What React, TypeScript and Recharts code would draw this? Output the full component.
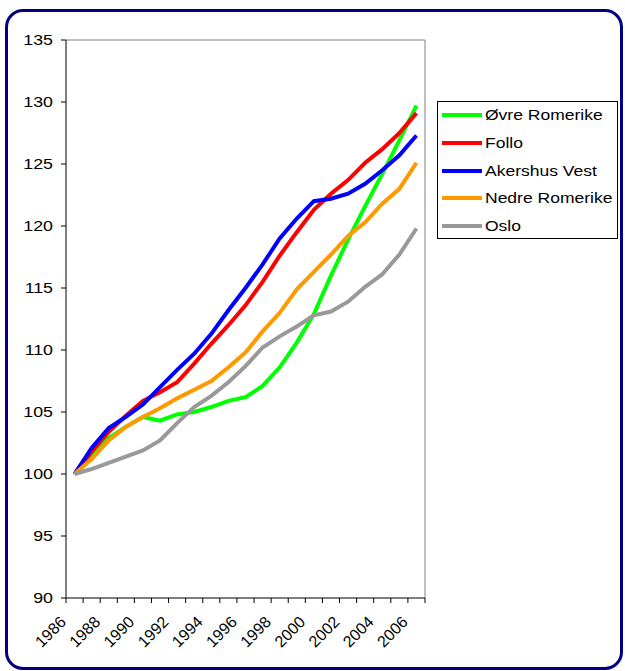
import React from "react";
import { LineChart, Line, XAxis, YAxis, ReferenceLine } from "recharts";

// index, 1986 = 100
const years = [
  1986, 1987, 1988, 1989, 1990, 1991, 1992, 1993, 1994, 1995, 1996,
  1997, 1998, 1999, 2000, 2001, 2002, 2003, 2004, 2005, 2006,
];
const ovreRomerike = [
  100, 101.4, 102.9, 103.8, 104.6, 104.3, 104.8, 105.0, 105.4, 105.9, 106.2,
  107.1, 108.6, 110.6, 112.9, 116.0, 118.9, 121.6, 124.2, 126.9, 129.7,
];
const follo = [
  100, 101.8, 103.4, 104.7, 105.9, 106.6, 107.4, 108.9, 110.5, 112.0, 113.6,
  115.5, 117.6, 119.5, 121.3, 122.6, 123.7, 125.1, 126.2, 127.5, 129.1,
];
const akershusVest = [
  100, 102.1, 103.7, 104.6, 105.6, 107.0, 108.4, 109.7, 111.3, 113.2, 115.0,
  116.9, 119.0, 120.6, 122.0, 122.2, 122.6, 123.4, 124.5, 125.7, 127.3,
];
const nedreRomerike = [
  100, 101.2, 102.7, 103.8, 104.6, 105.3, 106.1, 106.8, 107.5, 108.6, 109.8,
  111.5, 113.0, 114.9, 116.3, 117.7, 119.2, 120.3, 121.8, 123.0, 125.1,
];
const oslo = [
  100, 100.4, 100.9, 101.4, 101.9, 102.7, 104.1, 105.4, 106.3, 107.4, 108.7,
  110.2, 111.1, 111.9, 112.8, 113.1, 113.9, 115.1, 116.1, 117.7, 119.8,
];
const yTicks = [90, 95, 100, 105, 110, 115, 120, 125, 130, 135];
const xLabels = [1986, 1988, 1990, 1992, 1994, 1996, 1998, 2000, 2002, 2004, 2006];

const series = [
  { key: "ovre", name: "Øvre Romerike", color: "#00FF00", values: ovreRomerike },
  { key: "follo", name: "Follo", color: "#FF0000", values: follo },
  { key: "akershus", name: "Akershus Vest", color: "#0000FF", values: akershusVest },
  { key: "nedre", name: "Nedre Romerike", color: "#FF9900", values: nedreRomerike },
  { key: "oslo", name: "Oslo", color: "#999999", values: oslo },
];

const data = years.map((year, i) => {
  const row: Record<string, number> = { year };
  series.forEach((s) => (row[s.key] = s.values[i]));
  return row;
});

// tick marks sit between the categories, like Excel
const xTickMarks = [...years.map((y) => y - 0.5), years[years.length - 1] + 0.5];

const FONT = "'Liberation Sans', Arial, sans-serif";

const XTick = ({ x, payload }: any) => {
  const label = payload.value + 0.5;
  if (!xLabels.includes(label)) return <g />;
  const ax = x + 1;
  const ay = 623;
  return (
    <text
      x={ax}
      y={ay}
      transform={`rotate(-45, ${ax}, ${ay})`}
      textAnchor="end"
      fontSize={16}
      fontFamily={FONT}
      fill="#000"
    >
      {label}
    </text>
  );
};

const YTick = ({ y, payload }: any) => (
  <g transform={`translate(53, ${y})`}>
    <text
      textAnchor="end"
      dy="0.36em"
      transform="scale(1.27,1)"
      fontSize={14}
      fontFamily={FONT}
      fill="#000"
    >
      {payload.value}
    </text>
  </g>
);

export default function App() {
  return (
    <div
      style={{
        position: "absolute",
        left: 0,
        top: 0,
        width: 625,
        height: 671,
        background: "#fff",
        overflow: "hidden",
      }}
    >
      <div
        style={{
          position: "absolute",
          left: 5,
          top: 9,
          width: 618,
          height: 661,
          boxSizing: "border-box",
          border: "3px solid #000080",
          borderRadius: 18,
        }}
      />
      <div style={{ position: "absolute", left: 0, top: 0 }}>
        <LineChart
          width={625}
          height={671}
          data={data}
          margin={{ top: 40, right: 200, bottom: 0, left: 0 }}
        >
          <XAxis
            dataKey="year"
            type="number"
            domain={[1985.5, 2006.5]}
            ticks={xTickMarks}
            interval={0}
            height={73}
            tick={<XTick />}
            tickSize={5}
            axisLine={{ stroke: "#000" }}
            tickLine={{ stroke: "#000" }}
          />
          <YAxis
            type="number"
            domain={[90, 135]}
            ticks={yTicks}
            interval={0}
            width={66}
            tick={<YTick />}
            tickSize={5}
            axisLine={{ stroke: "#000" }}
            tickLine={{ stroke: "#000" }}
          />
          <ReferenceLine y={135} stroke="#808080" />
          <ReferenceLine x={2006.5} stroke="#808080" />
          {series.map((s) => (
            <Line
              key={s.key}
              type="linear"
              dataKey={s.key}
              name={s.name}
              stroke={s.color}
              strokeWidth={4}
              dot={false}
              activeDot={false}
              isAnimationActive={false}
            />
          ))}
        </LineChart>
      </div>
      <div
        style={{
          position: "absolute",
          left: 437,
          top: 101,
          width: 181,
          height: 138,
          boxSizing: "border-box",
          border: "1px solid #000",
          background: "#fff",
        }}
      >
        {series.map((s, i) => (
          <div
            key={s.key}
            style={{
              position: "absolute",
              left: 0,
              top: 13 + i * 27.75 - 10,
              height: 20,
              display: "flex",
              alignItems: "center",
            }}
          >
            <div
              style={{
                marginLeft: 4,
                width: 40,
                height: 4,
                background: s.color,
              }}
            />
            <span
              style={{
                marginLeft: 3,
                fontFamily: FONT,
                fontSize: 14,
                color: "#000",
                whiteSpace: "nowrap",
                display: "inline-block",
                transform: "scaleX(1.25)",
                transformOrigin: "left center",
              }}
            >
              {s.name}
            </span>
          </div>
        ))}
      </div>
    </div>
  );
}
